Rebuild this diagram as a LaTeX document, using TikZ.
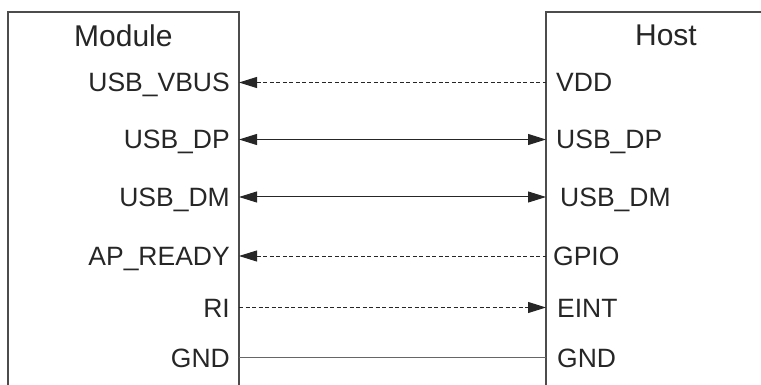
\documentclass[tikz,border=0pt]{standalone}
\usepackage{fontspec}
\setmainfont{Liberation Sans}
\usetikzlibrary{arrows.meta,positioning}

\begin{document}
\begin{tikzpicture}[x=1pt, y=-1pt,
    pin/.style={inner xsep=9pt, inner ysep=0pt, text height=19pt, text depth=0pt, font=\fontsize{26.5}{30}\selectfont, text=black!85},
    head/.style={inner sep=0pt, font=\fontsize{30}{34}\selectfont, text=black!85},
    box/.style={draw=black!70, line width=1.1pt},
    wire/.style={draw=black!85, line width=1pt},
    sig/.style={wire, dash pattern=on 4pt off 2.5pt},
    >={Triangle[length=18pt,width=11pt]}]

                \useasboundingbox (0,0) rectangle (761,385);

                \draw[box] (8,386) -- (8,12) -- (239,12) -- (239,386);
                \draw[box] (546,386) -- (546,12) -- (762,12);

                \node[head, anchor=base west] (mod) at (74,46.5) {Module};
                \node[head, anchor=base east] (host) at (697,46) {Host};

                \node[pin, anchor=east] (m1) at (239,82.5) {USB\_VBUS};
                \node[pin, anchor=east] (m2) at (239,139.5) {USB\_DP};
                \node[pin, anchor=east] (m3) at (239,197) {USB\_DM};
                \node[pin, anchor=east] (m4) at (239,256) {AP\_READY};
                \node[pin, anchor=east] (m5) at (239,307.5) {RI};
                \node[pin, anchor=east] (m6) at (239,357.5) {GND};

                \node[pin, anchor=west, inner xsep=10pt] (h1) at (546,82.5) {VDD};
                \node[pin, anchor=west, inner xsep=10pt] (h2) at (546,139.5) {USB\_DP};
                \node[pin, anchor=west, inner xsep=14pt] (h3) at (546,197) {USB\_DM};
                \node[pin, anchor=west, inner xsep=7pt] (h4) at (546,256) {GPIO};
                \node[pin, anchor=west, inner xsep=11pt] (h5) at (546,307.5) {EINT};
                \node[pin, anchor=west, inner xsep=11pt] (h6) at (546,357.5) {GND};

                \draw[sig,<-] (m1.east) -- (h1.west);
                \draw[wire,<->] (m2.east) -- (h2.west);
                \draw[wire,<->] (m3.east) -- (h3.west);
                \draw[sig,<-] (m4.east) -- (h4.west);
                \draw[sig,->] (m5.east) -- (h5.west);
                \draw[wire,draw=black!60] (m6.east) -- (h6.west);

\end{tikzpicture}
\end{document}
